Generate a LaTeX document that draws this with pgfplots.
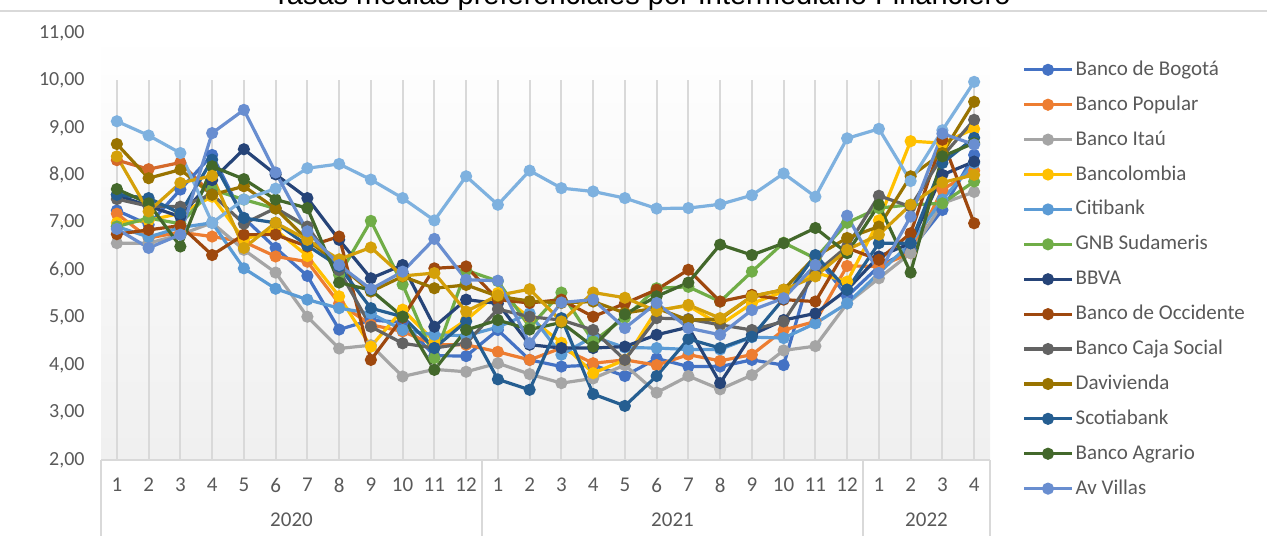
\documentclass[border=0pt]{standalone}
\usepackage{fontspec}
\setmainfont{Carlito}
\newfontfamily\titlefont{Liberation Sans}
\usepackage{pgfplots}
\usepackage{pgfplotstable}
\pgfplotsset{compat=1.18}
\definecolor{cBog}{HTML}{4472C4}
\definecolor{cPop}{HTML}{ED7D31}
\definecolor{cIta}{HTML}{A5A5A5}
\definecolor{cBcol}{HTML}{FFC000}
\definecolor{cCiti}{HTML}{5B9BD5}
\definecolor{cCitiL}{HTML}{7EB1DF}
\definecolor{cGNB}{HTML}{70AD47}
\definecolor{cBBVA}{HTML}{264478}
\definecolor{cOcc}{HTML}{9E480E}
\definecolor{cCaja}{HTML}{636363}
\definecolor{cDavi}{HTML}{997300}
\definecolor{cScot}{HTML}{255E91}
\definecolor{cAgr}{HTML}{43682B}
\definecolor{cAvV}{HTML}{698ED0}
\definecolor{cGold}{HTML}{D4A00A}
\definecolor{cOR}{HTML}{D5692A}
\definecolor{cgrid}{HTML}{D9D9D9}
\definecolor{ctext}{HTML}{595959}

\pgfplotstableread{
x Bog Pop Ita Bcol Citi GNB BBVA Occ Caja Davi Scot Agr AvV LBb Gold OR
1 7.26 7.19 6.57 7.00 9.14 6.92 7.59 6.76 7.50 8.66 7.59 7.71 6.87 6.92 8.40 8.32
2 6.96 6.68 6.57 7.05 8.84 7.10 7.35 6.85 7.35 7.94 7.52 7.41 6.47 6.70 7.24 8.13
3 7.70 6.80 6.75 7.20 8.47 6.98 7.13 6.94 7.34 8.12 7.20 6.50 6.75 6.90 7.84 8.27
4 8.43 6.71 7.00 7.55 7.00 7.70 7.90 6.32 7.60 7.59 8.33 8.19 8.89 7.00 7.99 7.59
5 7.10 6.60 6.43 6.65 7.49 7.49 8.55 6.75 6.98 7.77 7.10 7.92 9.38 6.04 6.47 nan
6 6.47 6.29 5.95 6.85 7.72 7.30 8.02 6.75 7.31 7.30 7.00 7.49 8.06 5.61 7.00 nan
7 5.88 6.18 5.02 6.30 8.15 6.90 7.52 6.50 6.92 6.64 6.52 7.31 6.82 5.38 6.64 nan
8 4.75 5.30 4.35 5.45 8.24 5.90 6.64 6.71 6.00 6.11 6.08 5.74 6.11 5.20 6.23 nan
9 4.95 4.85 4.42 4.39 7.91 7.04 5.83 4.11 4.81 5.55 5.20 5.58 5.60 5.09 6.48 nan
10 4.90 4.71 3.76 5.17 7.52 5.70 6.11 5.00 4.46 5.87 5.02 5.02 5.97 4.74 5.88 nan
11 4.20 4.43 3.91 4.50 7.05 4.15 4.81 6.04 4.36 5.62 4.36 3.90 6.66 4.64 5.94 nan
12 4.19 4.43 3.86 4.95 7.98 6.00 5.38 6.08 4.46 5.69 4.92 4.74 5.80 4.62 5.13 nan
13 4.74 4.28 4.04 5.52 7.38 5.77 5.30 5.38 5.18 5.45 3.70 4.95 5.78 4.80 5.47 nan
14 4.11 4.11 3.81 5.00 8.10 4.80 4.43 5.31 5.02 5.35 3.48 4.75 4.46 5.09 5.60 nan
15 3.97 4.36 3.62 4.47 7.73 5.53 4.36 5.38 4.95 5.31 4.99 4.90 5.32 4.22 4.92 nan
16 4.00 4.04 3.72 3.83 7.66 4.50 4.36 5.02 4.74 5.34 3.39 4.39 5.38 4.60 5.53 nan
17 3.77 4.11 4.00 4.11 7.52 5.00 4.39 5.30 4.11 5.10 3.14 5.07 4.78 4.37 5.42 nan
18 4.14 4.00 3.42 5.16 7.30 5.62 4.64 5.59 4.99 5.20 3.77 5.45 5.31 4.36 5.14 nan
19 3.97 4.22 3.77 5.25 7.31 5.65 4.80 6.01 4.97 4.95 4.55 5.74 4.78 4.33 5.27 nan
20 3.97 4.09 3.49 4.85 7.39 5.34 3.62 5.34 4.85 4.97 4.36 6.54 4.64 4.33 4.99 nan
21 4.11 4.22 3.79 5.30 7.58 5.97 4.64 5.48 4.74 5.45 4.60 6.32 5.16 4.59 5.45 nan
22 4.00 4.74 4.31 5.55 8.04 6.58 4.95 5.38 4.92 5.59 5.40 6.57 5.41 4.57 5.59 nan
23 6.30 4.92 4.40 5.95 7.55 6.25 5.09 5.34 5.94 6.29 6.32 6.89 6.11 4.88 5.87 nan
24 5.45 6.09 5.30 5.76 8.78 7.00 5.59 6.47 6.50 6.68 5.59 6.36 7.15 5.30 6.43 nan
25 6.08 6.08 5.83 7.05 8.98 7.31 6.29 6.22 7.57 6.92 6.57 7.38 5.94 5.94 6.75 nan
26 6.43 6.36 6.36 8.72 7.88 7.38 6.57 6.78 7.34 7.98 6.57 5.95 7.13 6.57 7.38 nan
27 7.27 7.70 7.41 8.68 8.95 7.41 8.01 8.75 8.40 8.47 8.26 8.40 8.88 7.49 7.85 nan
28 8.43 8.10 7.65 8.98 9.97 7.87 8.29 6.99 9.17 9.55 8.79 8.68 8.65 8.26 8.01 nan
}\data

\pgfplotsset{
  ser/.style={color=#1, line width=1.6pt, mark=*, mark size=2.2pt, mark options={solid, fill=#1, draw=#1}, forget plot},
  leg/.style={color=#1, line width=1.6pt, mark=*, mark size=2.2pt, mark options={solid, fill=#1, draw=#1}},
}

\begin{document}
\begin{tikzpicture}
\useasboundingbox (0pt,0pt) rectangle (633.5pt,268pt);
\node[font=\titlefont\fontsize{14.5}{16}\selectfont, anchor=base, text=black] at (320.75pt,265.5pt) {Tasas medias preferenciales por Intermediario Financiero};
\draw[cgrid, line width=0.8pt] (0pt,262.5pt) -- (633.5pt,262.5pt);
\begin{axis}[
  at={(50.5pt,38pt)}, anchor=south west,
  width=444.5pt, height=213.5pt, scale only axis,
  xmin=0.5, xmax=28.5, ymin=2, ymax=11,
  clip=false,
  axis line style={draw=none},
  major tick length=0pt,
  axis background/.style={top color=white, bottom color=black!6, draw=none},
  xtick={1,2,3,4,5,6,7,8,9,10,11,12,13,14,15,16,17,18,19,20,21,22,23,24,25,26,27,28},
  xticklabels={1,2,3,4,5,6,7,8,9,10,11,12,1,2,3,4,5,6,7,8,9,10,11,12,1,2,3,4},
  xticklabel style={font=\fontsize{10.5}{12}\selectfont, text=ctext, anchor=center, inner sep=0pt, yshift=-12.5pt},
  ytick={2,3,4,5,6,7,8,9,10,11},
  /pgf/number format/assume math mode=true,
  yticklabel style={font=\fontsize{10}{12}\selectfont, text=ctext, anchor=east, inner sep=0pt, xshift=-8pt,
    /pgf/number format/fixed, /pgf/number format/fixed zerofill, /pgf/number format/precision=2, /pgf/number format/use comma},
  legend style={at={(1.036,0.944)}, anchor=north west, draw=none, fill=none,
    font=\fontsize{10.5}{12}\selectfont, text=ctext, row sep=4.95pt, inner sep=0pt,
    nodes={inner sep=1pt, text height=8pt, text depth=2.5pt}},
  legend cell align=left,
  legend image code/.code={\draw[mark repeat=2, mark phase=2, #1] plot coordinates {(0pt,0pt) (12pt,0pt) (24pt,0pt)};},
]
\pgfplotsinvokeforeach{1,...,28}{\draw[cgrid, line width=0.9pt] (axis cs:#1,2) -- (axis cs:#1,10);}
\draw[cgrid, line width=0.8pt] (axis cs:0.5,2) -- (axis cs:28.5,2);
\pgfplotsinvokeforeach{0.5,12.5,24.5,28.5}{\draw[cgrid, line width=0.8pt] (axis cs:#1,2) -- ++(0pt,-38pt);}
\node[font=\fontsize{10.5}{12}\selectfont, text=ctext, yshift=-30pt] at (axis cs:6.5,2) {2020};
\node[font=\fontsize{10.5}{12}\selectfont, text=ctext, yshift=-30pt] at (axis cs:18.5,2) {2021};
\node[font=\fontsize{10.5}{12}\selectfont, text=ctext, yshift=-30pt] at (axis cs:26.5,2) {2022};

\addplot[ser=cOR] table[x=x,y=OR]{\data};
\addplot[ser=cBog] table[x=x,y=Bog]{\data};
\addplot[ser=cPop] table[x=x,y=Pop]{\data};
\addplot[ser=cIta] table[x=x,y=Ita]{\data};
\addplot[ser=cBcol] table[x=x,y=Bcol]{\data};
\addplot[ser=cCiti] table[x=x,y=LBb]{\data};
\addplot[ser=cGNB] table[x=x,y=GNB]{\data};
\addplot[ser=cBBVA] table[x=x,y=BBVA]{\data};
\addplot[ser=cOcc] table[x=x,y=Occ]{\data};
\addplot[ser=cCaja] table[x=x,y=Caja]{\data};
\addplot[ser=cDavi] table[x=x,y=Davi]{\data};
\addplot[ser=cScot] table[x=x,y=Scot]{\data};
\addplot[ser=cAgr] table[x=x,y=Agr]{\data};
\addplot[ser=cCitiL] table[x=x,y=Citi]{\data};
\addplot[ser=cGold] table[x=x,y=Gold]{\data};
\addplot[ser=cAvV] table[x=x,y=AvV]{\data};

\addlegendimage{leg=cBog}\addlegendentry{Banco de Bogotá}
\addlegendimage{leg=cPop}\addlegendentry{Banco Popular}
\addlegendimage{leg=cIta}\addlegendentry{Banco Itaú}
\addlegendimage{leg=cBcol}\addlegendentry{Bancolombia}
\addlegendimage{leg=cCiti}\addlegendentry{Citibank}
\addlegendimage{leg=cGNB}\addlegendentry{GNB Sudameris}
\addlegendimage{leg=cBBVA}\addlegendentry{BBVA}
\addlegendimage{leg=cOcc}\addlegendentry{Banco de Occidente}
\addlegendimage{leg=cCaja}\addlegendentry{Banco Caja Social}
\addlegendimage{leg=cDavi}\addlegendentry{Davivienda}
\addlegendimage{leg=cScot}\addlegendentry{Scotiabank}
\addlegendimage{leg=cAgr}\addlegendentry{Banco Agrario}
\addlegendimage{leg=cAvV}\addlegendentry{Av Villas}
\end{axis}
\end{tikzpicture}
\end{document}
